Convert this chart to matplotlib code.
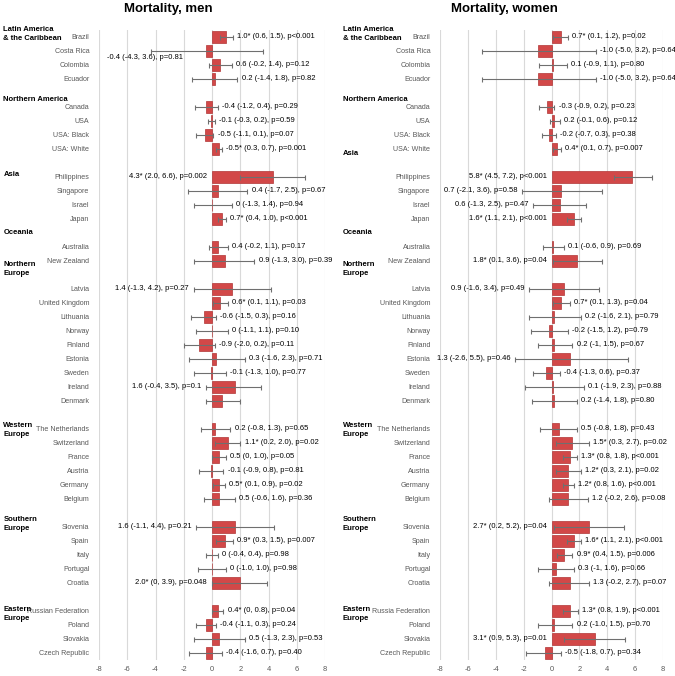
import matplotlib
matplotlib.use("Agg")
import matplotlib.pyplot as plt
import matplotlib.transforms as mtransforms
import numpy as np

plt.rcParams['font.family'] = ['Liberation Sans', 'DejaVu Sans']

# ---- data ----
group_sizes = [4, 4, 4, 2, 9, 6, 5, 4]

countries_men = ["Brazil", "Costa Rica", "Colombia", "Ecuador",
                 "Canada", "USA", "USA: Black", "USA: White",
                 "Philippines", "Singapore", "Israel", "Japan",
                 "Australia", "New Zealand",
                 "Latvia", "United Kingdom", "Lithuania", "Norway", "Finland",
                 "Estonia", "Sweden", "Ireland", "Denmark",
                 "The Netherlands", "Switzerland", "France", "Austria", "Germany", "Belgium",
                 "Slovenia", "Spain", "Italy", "Portugal", "Croatia",
                 "Russian Federation", "Poland", "Slovakia", "Czech Republic"]
countries_women = list(countries_men)
countries_women[34] = "Russia Federation"

est_men = [1.0, -0.4, 0.6, 0.2,
           -0.4, -0.1, -0.5, 0.5,
           4.3, 0.4, 0.0, 0.7,
           0.4, 0.9,
           1.4, 0.6, -0.6, 0.0, -0.9, 0.3, -0.1, 1.6, 0.7,
           0.2, 1.1, 0.5, -0.1, 0.5, 0.5,
           1.6, 0.9, 0.0, 0.0, 2.0,
           0.4, -0.4, 0.5, -0.4]
lo_men = [0.6, -4.3, -0.2, -1.4,
          -1.2, -0.3, -1.1, 0.3,
          2.0, -1.7, -1.3, 0.4,
          -0.2, -1.3,
          -1.3, 0.1, -1.5, -1.1, -2.0, -1.6, -1.3, -0.4, -0.4,
          -0.8, 0.2, 0.0, -0.9, 0.1, -0.6,
          -1.1, 0.3, -0.4, -1.0, 0.0,
          0.0, -1.1, -1.3, -1.6]
hi_men = [1.5, 3.6, 1.4, 1.8,
          0.4, 0.2, 0.1, 0.7,
          6.6, 2.5, 1.4, 1.0,
          1.1, 3.0,
          4.2, 1.1, 0.3, 1.1, 0.2, 2.3, 1.0, 3.5, 2.0,
          1.3, 2.0, 1.0, 0.8, 0.9, 1.6,
          4.4, 1.5, 0.4, 1.0, 3.9,
          0.8, 0.3, 2.3, 0.7]
labels_men = ["1.0* (0.6, 1.5), p<0.001", "-0.4 (-4.3, 3.6), p=0.81", "0.6 (-0.2, 1.4), p=0.12", "0.2 (-1.4, 1.8), p=0.82",
              "-0.4 (-1.2, 0.4), p=0.29", "-0.1 (-0.3, 0.2), p=0.59", "-0.5 (-1.1, 0.1), p=0.07", "-0.5* (0.3, 0.7), p=0.001",
              "4.3* (2.0, 6.6), p=0.002", "0.4 (-1.7, 2.5), p=0.67", "0 (-1.3, 1.4), p=0.94", "0.7* (0.4, 1.0), p<0.001",
              "0.4 (-0.2, 1.1), p=0.17", "0.9 (-1.3, 3.0), p=0.39",
              "1.4 (-1.3, 4.2), p=0.27", "0.6* (0.1, 1.1), p=0.03", "-0.6 (-1.5, 0.3), p=0.16", "0 (-1.1, 1.1), p=0.10",
              "-0.9 (-2.0, 0.2), p=0.11", "0.3 (-1.6, 2.3), p=0.71", "-0.1 (-1.3, 1.0), p=0.77", "1.6 (-0.4, 3.5), p=0.1", "",
              "0.2 (-0.8, 1.3), p=0.65", "1.1* (0.2, 2.0), p=0.02", "0.5 (0, 1.0), p=0.05", "-0.1 (-0.9, 0.8), p=0.81",
              "0.5* (0.1, 0.9), p=0.02", "0.5 (-0.6, 1.6), p=0.36",
              "1.6 (-1.1, 4.4), p=0.21", "0.9* (0.3, 1.5), p=0.007", "0 (-0.4, 0.4), p=0.98", "0 (-1.0, 1.0), p=0.98",
              "2.0* (0, 3.9), p=0.048",
              "0.4* (0, 0.8), p=0.04", "-0.4 (-1.1, 0.3), p=0.24", "0.5 (-1.3, 2.3), p=0.53", "-0.4 (-1.6, 0.7), p=0.40"]

est_women = [0.7, -1.0, 0.1, -1.0,
             -0.3, 0.2, -0.2, 0.4,
             5.8, 0.7, 0.6, 1.6,
             0.1, 1.8,
             0.9, 0.7, 0.2, -0.2, 0.2, 1.3, -0.4, 0.1, 0.2,
             0.5, 1.5, 1.3, 1.2, 1.2, 1.2,
             2.7, 1.6, 0.9, 0.3, 1.3,
             1.3, 0.2, 3.1, -0.5]
lo_women = [0.1, -5.0, -0.9, -5.0,
            -0.9, -0.1, -0.7, 0.1,
            4.5, -2.1, -1.3, 1.1,
            -0.6, 0.1,
            -1.6, 0.1, -1.6, -1.5, -1.0, -2.6, -1.3, -1.9, -1.4,
            -0.8, 0.3, 0.8, 0.3, 0.8, -0.2,
            0.2, 1.1, 0.4, -1.0, -0.2,
            0.8, -1.0, 0.9, -1.8]
hi_women = [1.2, 3.2, 1.1, 3.2,
            0.2, 0.6, 0.3, 0.7,
            7.2, 3.6, 2.5, 2.1,
            0.9, 3.6,
            3.4, 1.3, 2.1, 1.2, 1.5, 5.5, 0.6, 2.3, 1.8,
            1.8, 2.7, 1.8, 2.1, 1.6, 2.6,
            5.2, 2.1, 1.5, 1.6, 2.7,
            1.9, 1.5, 5.3, 0.7]
labels_women = ["0.7* (0.1, 1.2), p=0.02", "-1.0 (-5.0, 3.2), p=0.64", "0.1 (-0.9, 1.1), p=0.80", "-1.0 (-5.0, 3.2), p=0.64",
                "-0.3 (-0.9, 0.2), p=0.23", "0.2 (-0.1, 0.6), p=0.12", "-0.2 (-0.7, 0.3), p=0.38", "0.4* (0.1, 0.7), p=0.007",
                "5.8* (4.5, 7.2), p<0.001", "0.7 (-2.1, 3.6), p=0.58", "0.6 (-1.3, 2.5), p=0.47", "1.6* (1.1, 2.1), p<0.001",
                "0.1 (-0.6, 0.9), p=0.69", "1.8* (0.1, 3.6), p=0.04",
                "0.9 (-1.6, 3.4), p=0.49", "0.7* (0.1, 1.3), p=0.04", "0.2 (-1.6, 2.1), p=0.79", "-0.2 (-1.5, 1.2), p=0.79",
                "0.2 (-1, 1.5), p=0.67", "1.3 (-2.6, 5.5), p=0.46", "-0.4 (-1.3, 0.6), p=0.37", "0.1 (-1.9, 2.3), p=0.88",
                "0.2 (-1.4, 1.8), p=0.80",
                "0.5 (-0.8, 1.8), p=0.43", "1.5* (0.3, 2.7), p=0.02", "1.3* (0.8, 1.8), p<0.001", "1.2* (0.3, 2.1), p=0.02",
                "1.2* (0.8, 1.6), p<0.001", "1.2 (-0.2, 2.6), p=0.08",
                "2.7* (0.2, 5.2), p=0.04", "1.6* (1.1, 2.1), p<0.001", "0.9* (0.4, 1.5), p=0.006", "0.3 (-1, 1.6), p=0.66",
                "1.3 (-0.2, 2.7), p=0.07",
                "1.3* (0.8, 1.9), p<0.001", "0.2 (-1.0, 1.5), p=0.70", "3.1* (0.9, 5.3), p=0.01", "-0.5 (-1.8, 0.7), p=0.34"]

regions = ["Latin America\n& the Caribbean", "Northern America", "Asia", "Oceania",
           "Northern\nEurope", "Western\nEurope", "Southern\nEurope", "Eastern\nEurope"]

# ---- layout ----
region_y_men = [-0.2, 4.5, 9.85, 14.0, 16.6, 28.1, 34.8, 41.2]
region_y_women = [-0.2, 4.5, 8.3, 14.0, 16.6, 28.1, 34.8, 41.2]
left_men = {"Philippines", "Latvia", "Ireland", "Slovenia", "Croatia"}
left_women = {"Philippines", "Singapore", "Israel", "Japan", "New Zealand",
              "Latvia", "Estonia", "Slovenia", "Slovakia"}

slots = []
s = 0
for g in group_sizes:
    slots.extend(range(s, s + g))
    s += g + 1
slots = np.array(slots)

BAR = '#D24848'
EDGE = '#B03535'
ERR = '#6F6F6F'
VAL_FS = 5.5

fig = plt.figure(figsize=(6.75, 6.76), dpi=100)


def panel(rect, names, est, lo, hi, labels, left_set, region_y, title, title_x, fig_x):
    ax = fig.add_axes(rect)
    est = np.array(est)
    lo = np.array(lo)
    hi = np.array(hi)
    ax.barh(slots, est, height=0.8, color=BAR, edgecolor=EDGE, linewidth=0.5, zorder=2)
    ax.errorbar(est, slots, xerr=[est - lo, hi - est], fmt='none', ecolor=ERR,
                elinewidth=0.8, capsize=1.8, capthick=0.8, zorder=3)
    for i, name in enumerate(names):
        lab = labels[i]
        if not lab:
            continue
        if name == "Costa Rica" and "4.3" in lab:
            ax.text(-7.4, slots[i] + 0.5, lab, ha='left', va='center', fontsize=VAL_FS)
        elif name in left_set:
            ax.text(min(lo[i], 0) - 0.35, slots[i], lab, ha='right', va='center', fontsize=VAL_FS)
        else:
            ax.text(max(hi[i], est[i]) + 0.3, slots[i], lab, ha='left', va='center', fontsize=VAL_FS)
    ax.set_xlim(-8, 8)
    ax.set_ylim(44.5, -0.5)
    ax.set_xticks(np.arange(-8, 9, 2))
    ax.set_xticklabels([str(v) for v in range(-8, 9, 2)])
    ax.set_yticks(slots)
    ax.set_yticklabels(names)
    ax.tick_params(axis='y', length=0, pad=7, labelsize=5.1, labelcolor='#595959')
    ax.tick_params(axis='x', length=0, pad=4, labelsize=5.4, labelcolor='#595959')
    ax.grid(axis='x', color='#D9D9D9', linewidth=0.8, zorder=0)
    ax.set_axisbelow(True)
    for sp in ax.spines.values():
        sp.set_visible(False)
    trans = mtransforms.blended_transform_factory(fig.transFigure, ax.transData)
    for txt, y in zip(regions, region_y):
        ax.text(fig_x, y, txt, transform=trans, ha='left', va='center',
                fontsize=5.5, fontweight='bold', linespacing=1.4)
    fig.text(title_x, 0.987, title, ha='center', va='center', fontsize=9.5, fontweight='bold')
    return ax


panel([0.1467, 0.0237, 0.3348, 0.932], countries_men, est_men, lo_men, hi_men, labels_men,
      left_men, region_y_men, "Mortality, men", 0.249, 0.005)
panel([0.6519, 0.0237, 0.3304, 0.932], countries_women, est_women, lo_women, hi_women, labels_women,
      left_women, region_y_women, "Mortality, women", 0.747, 0.508)

fig.savefig("out.png", dpi=100)
